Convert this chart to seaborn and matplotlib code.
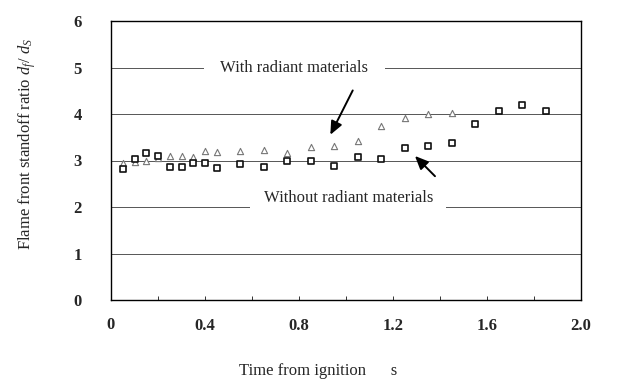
import matplotlib
matplotlib.use("Agg")
import matplotlib.pyplot as plt
import seaborn as sns
import pandas as pd
import numpy as np

# ---- data ----
time_without = [0.05, 0.10, 0.15, 0.20, 0.25, 0.30, 0.35, 0.40, 0.45, 0.55, 0.65, 0.75,
                0.85, 0.95, 1.05, 1.15, 1.25, 1.35, 1.45, 1.55, 1.65, 1.75, 1.85]
ratio_without = [2.82, 3.04, 3.17, 3.10, 2.85, 2.85, 2.94, 2.94, 2.83, 2.93, 2.87, 3.00,
                 3.00, 2.89, 3.08, 3.04, 3.27, 3.32, 3.38, 3.78, 4.06, 4.19, 4.06]
time_with = [0.05, 0.10, 0.15, 0.20, 0.25, 0.30, 0.35, 0.40, 0.45, 0.55, 0.65, 0.75,
             0.85, 0.95, 1.05, 1.15, 1.25, 1.35, 1.45]
ratio_with = [2.94, 2.97, 3.00, 3.05, 3.10, 3.10, 3.08, 3.20, 3.19, 3.21, 3.22, 3.16,
              3.30, 3.31, 3.43, 3.74, 3.91, 3.99, 4.03]
x_ticks = [0.0, 0.4, 0.8, 1.2, 1.6, 2.0]
x_tick_labels = ["0", "0.4", "0.8", "1.2", "1.6", "2.0"]
y_ticks = [0, 1, 2, 3, 4, 5, 6]

df_without = pd.DataFrame({"t": time_without, "r": ratio_without})
df_with = pd.DataFrame({"t": time_with, "r": ratio_with})

sns.set_style("white")
plt.rcParams["font.family"] = ["Liberation Serif", "DejaVu Serif"]
plt.rcParams["mathtext.fontset"] = "custom"
plt.rcParams["mathtext.it"] = "Liberation Serif:italic"
plt.rcParams["mathtext.rm"] = "Liberation Serif"

fig = plt.figure(figsize=(6.28, 3.83), dpi=100)
ax = fig.add_axes([111 / 628, 1 - 300 / 383, 470 / 628, 279 / 383])

# gridlines
for yv in y_ticks[1:-1]:
    ax.axhline(yv, color="#555555", lw=0.7, zorder=1)

sns.scatterplot(data=df_with, x="t", y="r", ax=ax, marker="^", s=20,
                facecolor="white", edgecolor="#777777", linewidth=0.8, zorder=3)
sns.scatterplot(data=df_without, x="t", y="r", ax=ax, marker="s", s=16,
                facecolor="white", edgecolor="#111111", linewidth=1.2, zorder=4)

ax.set_xlim(0, 2.0)
ax.set_ylim(0, 6)

ax.set_xticks(x_ticks)
ax.set_xticklabels([""] + x_tick_labels[1:], fontweight="bold", fontsize=12)
ax.set_xticks(np.arange(0.2, 2.0, 0.4), minor=True)
ax.tick_params(axis="x", which="both", direction="in", length=3, width=0.7,
               pad=13, bottom=True, color="#333333")
# the "0" label sits a little lower in the original
ax.annotate(x_tick_labels[0], xy=(x_ticks[0], 0), xycoords=("data", "axes fraction"),
            xytext=(0, -25), textcoords="offset pixels", ha="center", va="center",
            fontweight="bold", fontsize=12)
ax.set_yticks(y_ticks)
ax.set_yticklabels([str(v) for v in y_ticks], fontweight="bold", fontsize=12)
ax.tick_params(axis="y", length=0, pad=21)

for sp in ax.spines.values():
    sp.set_color("black")
    sp.set_linewidth(1.0)

ax.set_xlabel("Time from ignition      s", fontsize=12)
ax.set_ylabel(r"Flame front standoff ratio $d_f$/ $d_S$", fontsize=12)
ax.yaxis.set_label_coords(-0.155, 0.56)
ax.xaxis.set_label_coords(0.44, -0.225)

ax.text(0.78, 5.0, "With radiant materials", ha="center", va="center",
        fontsize=12, bbox=dict(boxstyle="square,pad=1.0", facecolor="white", edgecolor="none"),
        zorder=5)
ax.text(1.01, 2.2, "Without radiant materials", ha="center", va="center",
        fontsize=12, bbox=dict(boxstyle="square,pad=0.8", facecolor="white", edgecolor="none"),
        zorder=5)

arrow_kw = dict(arrowstyle="-|>,head_length=0.8,head_width=0.35", color="black", lw=1.4)
ax.annotate("", xy=(0.928, 3.50), xytext=(1.034, 4.56), arrowprops=arrow_kw, zorder=6)
ax.annotate("", xy=(1.285, 3.14), xytext=(1.387, 2.62), arrowprops=arrow_kw, zorder=6)

fig.savefig("out.png", dpi=100)
